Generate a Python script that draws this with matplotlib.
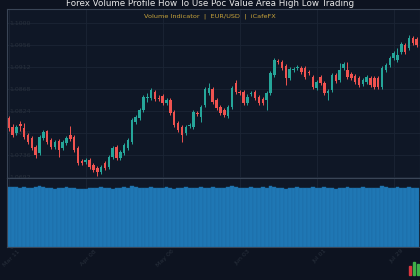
import matplotlib
matplotlib.use('Agg')
import matplotlib.pyplot as plt
from matplotlib.ticker import MultipleLocator
from matplotlib.patches import Rectangle
from matplotlib.transforms import ScaledTranslation

# EUR/USD daily candles
opens = [
    1.0810, 1.0792, 1.0780, 1.0798, 1.0790, 1.0776, 1.0770, 1.0752, 1.0740, 1.0770,
    1.0784, 1.0766, 1.0752, 1.0764, 1.0750, 1.0760, 1.0776, 1.0772, 1.0750, 1.0724,
    1.0722, 1.0726, 1.0716, 1.0710, 1.0702, 1.0720, 1.0712, 1.0732, 1.0752, 1.0730,
    1.0740, 1.0750, 1.0762, 1.0802, 1.0810, 1.0826, 1.0850, 1.0850, 1.0862, 1.0850,
    1.0854, 1.0840, 1.0846, 1.0822, 1.0800, 1.0792, 1.0780, 1.0794, 1.0792, 1.0820,
    1.0812, 1.0836, 1.0860, 1.0868, 1.0846, 1.0832, 1.0826, 1.0814, 1.0832, 1.0880,
    1.0862, 1.0862, 1.0840, 1.0858, 1.0862, 1.0852, 1.0848, 1.0846, 1.0860, 1.0896,
    1.0924, 1.0922, 1.0914, 1.0890, 1.0906, 1.0910, 1.0910, 1.0910, 1.0902, 1.0892,
    1.0870, 1.0892, 1.0880, 1.0860, 1.0866, 1.0896, 1.0886, 1.0910, 1.0906, 1.0898,
    1.0894, 1.0890, 1.0878, 1.0882, 1.0890, 1.0890, 1.0890, 1.0872, 1.0906, 1.0916,
    1.0930, 1.0926, 1.0942, 1.0956, 1.0950, 1.0970, 1.0968,
]
highs = [
    1.0814, 1.0798, 1.0796, 1.0804, 1.0800, 1.0780, 1.0774, 1.0756, 1.0776, 1.0786,
    1.0786, 1.0770, 1.0766, 1.0768, 1.0766, 1.0774, 1.0794, 1.0776, 1.0754, 1.0728,
    1.0730, 1.0730, 1.0720, 1.0714, 1.0716, 1.0724, 1.0736, 1.0754, 1.0756, 1.0746,
    1.0760, 1.0770, 1.0810, 1.0816, 1.0830, 1.0856, 1.0860, 1.0870, 1.0866, 1.0856,
    1.0858, 1.0850, 1.0850, 1.0826, 1.0804, 1.0796, 1.0796, 1.0800, 1.0826, 1.0824,
    1.0836, 1.0872, 1.0880, 1.0872, 1.0850, 1.0836, 1.0830, 1.0836, 1.0874, 1.0886,
    1.0866, 1.0866, 1.0858, 1.0864, 1.0866, 1.0856, 1.0852, 1.0864, 1.0904, 1.0930,
    1.0928, 1.0926, 1.0918, 1.0912, 1.0912, 1.0916, 1.0914, 1.0914, 1.0906, 1.0896,
    1.0886, 1.0896, 1.0884, 1.0868, 1.0900, 1.0900, 1.0920, 1.0922, 1.0922, 1.0902,
    1.0898, 1.0894, 1.0890, 1.0896, 1.0894, 1.0894, 1.0894, 1.0914, 1.0920, 1.0934,
    1.0944, 1.0950, 1.0962, 1.0960, 1.0976, 1.0974, 1.0972,
]
lows = [
    1.0784, 1.0772, 1.0776, 1.0784, 1.0768, 1.0758, 1.0746, 1.0730, 1.0736, 1.0766,
    1.0758, 1.0748, 1.0748, 1.0732, 1.0746, 1.0756, 1.0764, 1.0742, 1.0716, 1.0716,
    1.0718, 1.0708, 1.0702, 1.0694, 1.0698, 1.0706, 1.0708, 1.0728, 1.0726, 1.0726,
    1.0736, 1.0746, 1.0758, 1.0798, 1.0806, 1.0822, 1.0842, 1.0846, 1.0844, 1.0844,
    1.0836, 1.0836, 1.0816, 1.0792, 1.0782, 1.0762, 1.0776, 1.0790, 1.0788, 1.0814,
    1.0802, 1.0832, 1.0856, 1.0838, 1.0826, 1.0816, 1.0812, 1.0810, 1.0828, 1.0858,
    1.0856, 1.0836, 1.0836, 1.0854, 1.0846, 1.0836, 1.0836, 1.0826, 1.0856, 1.0892,
    1.0918, 1.0906, 1.0876, 1.0886, 1.0902, 1.0906, 1.0898, 1.0888, 1.0896, 1.0868,
    1.0866, 1.0876, 1.0856, 1.0846, 1.0862, 1.0880, 1.0882, 1.0906, 1.0888, 1.0886,
    1.0878, 1.0872, 1.0874, 1.0878, 1.0872, 1.0868, 1.0868, 1.0868, 1.0902, 1.0912,
    1.0926, 1.0922, 1.0938, 1.0938, 1.0946, 1.0956, 1.0952,
]
closes = [
    1.0790, 1.0776, 1.0792, 1.0794, 1.0772, 1.0762, 1.0750, 1.0736, 1.0772, 1.0782,
    1.0762, 1.0752, 1.0762, 1.0746, 1.0762, 1.0770, 1.0768, 1.0746, 1.0720, 1.0720,
    1.0726, 1.0712, 1.0706, 1.0702, 1.0712, 1.0710, 1.0732, 1.0750, 1.0730, 1.0742,
    1.0756, 1.0766, 1.0806, 1.0812, 1.0826, 1.0852, 1.0852, 1.0866, 1.0848, 1.0848,
    1.0840, 1.0846, 1.0820, 1.0796, 1.0786, 1.0776, 1.0792, 1.0796, 1.0822, 1.0818,
    1.0832, 1.0868, 1.0870, 1.0842, 1.0830, 1.0820, 1.0816, 1.0832, 1.0870, 1.0862,
    1.0860, 1.0840, 1.0852, 1.0860, 1.0850, 1.0840, 1.0840, 1.0860, 1.0900, 1.0926,
    1.0922, 1.0910, 1.0890, 1.0908, 1.0908, 1.0912, 1.0902, 1.0892, 1.0900, 1.0872,
    1.0882, 1.0880, 1.0860, 1.0864, 1.0896, 1.0884, 1.0906, 1.0918, 1.0892, 1.0890,
    1.0882, 1.0876, 1.0886, 1.0892, 1.0876, 1.0872, 1.0872, 1.0910, 1.0916, 1.0930,
    1.0940, 1.0936, 1.0958, 1.0942, 1.0970, 1.0960, 1.0956,
]
volumes = [
    102, 101, 101, 100, 101, 100, 100, 101, 103, 101,
    100, 100, 99, 100, 100, 101, 100, 100, 99, 98,
    98, 100, 100, 100, 101, 100, 100, 99, 100, 100,
    101, 100, 104, 101, 100, 100, 100, 101, 100, 100,
    100, 101, 100, 99, 100, 100, 101, 100, 100, 100,
    101, 100, 100, 101, 100, 100, 100, 101, 103, 101,
    100, 100, 100, 101, 100, 100, 101, 100, 103, 101,
    100, 100, 99, 100, 100, 101, 100, 100, 100, 101,
    100, 100, 101, 100, 100, 99, 100, 100, 101, 100,
    100, 100, 101, 100, 100, 100, 100, 104, 101, 100,
    100, 101, 100, 100, 101, 100, 100,
]
tick_pos = [0, 20, 40, 60, 80, 100]
tick_labels = ['Mar 11', 'Apr 08', 'May 06', 'Jun 03', 'Jul 01', 'Jul 29']

BG = '#0d1320'
PANEL = '#0f1726'
GRID = '#1b2535'
UP = '#26a69a'
DOWN = '#ef5350'
VOL = '#1f77b4'
LABEL = '#28303c'

n = len(closes)
idx = list(range(n))

fig = plt.figure(figsize=(4.2, 2.8), dpi=100, facecolor=BG)
ax = fig.add_axes([7 / 420, 1 - 178 / 280, 1 - 7 / 420, 169 / 280])
axv = fig.add_axes([7 / 420, 1 - 247 / 280, 1 - 7 / 420, 69 / 280], sharex=ax)

for a in (ax, axv):
    a.set_facecolor(PANEL)
    for s in a.spines.values():
        s.set_color('#3a4556')
        s.set_linewidth(0.8)
    a.tick_params(length=0, labelsize=4.5, colors=LABEL, pad=1)
    a.tick_params(axis='y', pad=-2)
    a.grid(True, color=GRID, linewidth=0.6)
    a.set_axisbelow(True)

# candles
colors = [UP if c >= o else DOWN for o, c in zip(opens, closes)]
ax.vlines(idx, lows, highs, colors=colors, linewidth=0.7)
bottoms = [min(o, c) for o, c in zip(opens, closes)]
heights = [max(abs(c - o), 0.00012) for o, c in zip(opens, closes)]
ax.bar(idx, heights, bottom=bottoms, width=0.65, color=colors, linewidth=0)

ax.set_ylim(1.0690, 1.1028)
ax.yaxis.set_major_locator(MultipleLocator(0.0044))
ax.set_xlim(-0.45, 106.85)
ax.tick_params(axis='x', labelbottom=False)

# volume
axv.bar(idx, volumes, width=1.0, color=VOL, edgecolor='#1b6aa2', linewidth=0.3)
axv.set_ylim(0, 117)
axv.yaxis.set_major_locator(MultipleLocator(40))
axv.set_xticks(tick_pos)
axv.set_xticklabels(tick_labels, rotation=45, ha='center')
shift = ScaledTranslation(3 / 100, 0, fig.dpi_scale_trans)
for lbl in axv.get_xticklabels():
    lbl.set_transform(lbl.get_transform() + shift)

# y labels sit inside the panels, very dim
for a in (ax, axv):
    for lbl in a.get_yticklabels():
        lbl.set_ha('left')

fig.text(0.5, 1 - 3.5 / 280, 'Forex Volume Profile How To Use Poc Value Area High Low Trading',
         ha='center', va='center', color='#e8e8e8', fontsize=6.35)
fig.text(0.5, 1 - 16 / 280, 'Volume Indicator  |  EUR/USD  |  iCafeFX',
         ha='center', va='center', color='#c9a43a', fontsize=4.65)

# small candle logo in the corner
fig.add_artist(Rectangle((409 / 420, 5 / 280), 2 / 420, 9 / 280,
                         transform=fig.transFigure, color='#d9363e'))
fig.add_artist(Rectangle((413 / 420, 5 / 280), 2 / 420, 13 / 280,
                         transform=fig.transFigure, color='#3fae49'))
fig.add_artist(Rectangle((417 / 420, 5 / 280), 2 / 420, 11 / 280,
                         transform=fig.transFigure, color='#3fae49'))

fig.savefig('out.png', dpi=100, facecolor=BG)
plt.close(fig)
